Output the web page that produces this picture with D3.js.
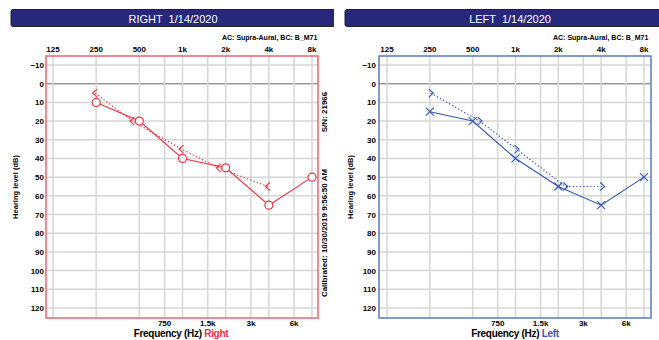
<!DOCTYPE html>
<html><head><meta charset="utf-8">
<script src="https://cdn.jsdelivr.net/npm/d3@7/dist/d3.min.js"></script>
<style>body{margin:0;background:#fff;}svg{display:block;}text{font-family:"Liberation Sans",Arial,sans-serif;white-space:pre;}</style>
</head><body><svg id="c" width="659" height="340"></svg>
<script>
const freqGrid = [125,250,500,750,1000,1500,2000,3000,4000,6000,8000];
const topTicks = [125,250,500,1000,2000,4000,8000];
const topLabels = ["125","250","500","1k","2k","4k","8k"];
const bottomTicks = [750,1500,3000,6000];
const bottomLabels = ["750","1.5k","3k","6k"];
const dbTicks = [-10,0,10,20,30,40,50,60,70,80,90,100,110,120];

const acFreqs = [250,500,1000,2000,4000,8000];
const rightAC = [10,20,40,45,65,50];
const leftAC = [15,20,40,55,65,50];
const bcFreqs = [250,500,1000,2000,4000];
const rightBC = [5,20,35,45,55];
const leftBC = [5,20,35,55,55];

const svg = d3.select("#c");
const defs = svg.append("defs");

const panels = [
  {key:"R", title:"RIGHT  1/14/2020", ear:"Right", color:"#ee3040", border:"#f06070",
   clipX:0, clipW:334, hx:11, hw:324, box:[46,318], range:[53,312], ac:rightAC, bc:rightBC, bcDir:-1, labX:44, titleX:15, noteX:222, freqTitleX:181},
  {key:"L", title:"LEFT  1/14/2020", ear:"Left", color:"#3555b5", border:"#5a78c0",
   clipX:338, clipW:330, hx:345, hw:330, box:[379,651], range:[387,644], ac:leftAC, bc:leftBC, bcDir:1, labX:376, titleX:350, noteX:553, freqTitleX:515}
];

const y = d3.scaleLinear().domain([-10,120]).range([65,308]);
const boxTop = 56, boxBot = 318;

panels.forEach(p => {
  defs.append("clipPath").attr("id","clip"+p.key).append("rect")
    .attr("x",p.clipX).attr("y",0).attr("width",p.clipW).attr("height",340);
  const g = svg.append("g").attr("clip-path",`url(#clip${p.key})`);
  const x = d3.scaleLog().base(2).domain([125,8000]).range(p.range);

  g.append("rect").attr("x",p.hx).attr("y",9.5).attr("width",p.hw).attr("height",17)
    .attr("rx",2).attr("fill","#27277c").attr("stroke","#222").attr("stroke-width",1);
  g.append("text").attr("x",p.hx+p.hw/2).attr("y",22.5).attr("text-anchor","middle")
    .attr("fill","#fff").attr("font-size",11).text(p.title);

  g.append("text").attr("x",p.noteX).attr("y",40).attr("font-size",7).attr("font-weight","bold")
    .attr("fill","#000").text("AC: Supra-Aural, BC: B_M71");

  g.selectAll(".hg").data(dbTicks).join("line")
    .attr("x1",p.box[0]).attr("x2",p.box[1]).attr("y1",d=>y(d)).attr("y2",d=>y(d))
    .attr("stroke",d=>d===0?"#999":"#d6d6d6").attr("stroke-width",1.5);
  g.selectAll(".vg").data(freqGrid).join("line")
    .attr("x1",d=>x(d)).attr("x2",d=>x(d)).attr("y1",boxTop).attr("y2",boxBot)
    .attr("stroke","#d6d6d6").attr("stroke-width",1.5);
  g.append("rect").attr("x",p.box[0]).attr("y",boxTop).attr("width",p.box[1]-p.box[0]).attr("height",boxBot-boxTop)
    .attr("fill","none").attr("stroke",p.border).attr("stroke-width",1.5);

  g.selectAll(".tt").data(topTicks).join("text")
    .attr("x",d=>x(d)).attr("y",52).attr("text-anchor","middle").attr("font-size",8).attr("font-weight","bold")
    .text((d,i)=>topLabels[i]);
  g.selectAll(".bt").data(bottomTicks).join("text")
    .attr("x",d=>x(d)).attr("y",326).attr("text-anchor","middle").attr("font-size",8).attr("font-weight","bold")
    .text((d,i)=>bottomLabels[i]);
  g.selectAll(".yt").data(dbTicks).join("text")
    .attr("x",p.labX).attr("y",d=>y(d)+3).attr("text-anchor","end").attr("font-size",8).attr("font-weight","bold")
    .text(d=>d===-10?"\u221210":d);

  g.append("text").attr("transform",`translate(${p.titleX+3},187) rotate(-90)`).attr("text-anchor","middle")
    .attr("font-size",7.5).attr("font-weight","bold").text("Hearing level (dB)");
  const ft = g.append("text").attr("x",p.freqTitleX).attr("y",337).attr("text-anchor","middle")
    .attr("font-size",10).attr("font-weight","bold").attr("letter-spacing",-0.3);
  ft.append("tspan").text("Frequency (Hz) ");
  ft.append("tspan").attr("fill",p.color).text(p.ear);

  // BC points: shift outward when overlapping the AC symbol
  const bcPts = bcFreqs.map((f,i)=>{
    const j = acFreqs.indexOf(f);
    const overlap = j>=0 && p.ac[j]===p.bc[i];
    return [x(f)+p.bcDir*(overlap?7:1), y(p.bc[i])];
  });
  g.append("path").attr("d",d3.line()(bcPts)).attr("fill","none").attr("stroke",p.color)
    .attr("stroke-width",1.2).attr("stroke-dasharray","1.3,2.2");
  const acPts = acFreqs.map((f,i)=>[x(f), y(p.ac[i])]);
  g.append("path").attr("d",d3.line()(acPts)).attr("fill","none").attr("stroke",p.color).attr("stroke-width",1.1);

  bcPts.forEach(([px,py])=>{
    const vx = px + p.bcDir*2.5, ax = px - p.bcDir*2;
    g.append("path").attr("d",`M${ax},${py-4}L${vx},${py}L${ax},${py+4}`)
      .attr("fill","none").attr("stroke",p.color).attr("stroke-width",1.1);
  });
  if (p.key==="R") {
    g.selectAll(".m").data(acPts).join("circle").attr("cx",d=>d[0]).attr("cy",d=>d[1]).attr("r",4)
      .attr("fill","#fff").attr("stroke",p.color).attr("stroke-width",1.2);
  } else {
    acPts.forEach(([px,py])=>{
      g.append("path").attr("d",`M${px-4},${py-4}L${px+4},${py+4}M${px-4},${py+4}L${px+4},${py-4}`)
        .attr("stroke",p.color).attr("stroke-width",1.1);
    });
  }

  if (p.key==="R") {
    g.append("text").attr("transform","translate(327,112) rotate(-90)").attr("text-anchor","middle")
      .attr("font-size",8).attr("font-weight","bold").text("S/N: 21966");
    g.append("text").attr("transform","translate(327,233) rotate(-90)").attr("text-anchor","middle")
      .attr("font-size",8).attr("font-weight","bold").text("Calibrated: 10/30/2019 9:56:50 AM");
  }
});
</script></body></html>
